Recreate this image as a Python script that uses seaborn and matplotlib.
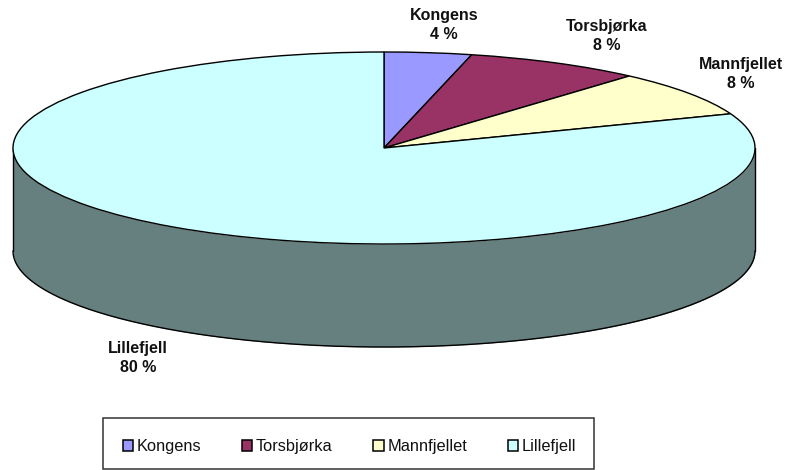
import numpy as np
import matplotlib
matplotlib.use("Agg")
import matplotlib.pyplot as plt
from matplotlib.patches import Patch
import seaborn as sns

categories = ["Kongens", "Torsbjørka", "Mannfjellet", "Lillefjell"]
values = [3.8, 7.7, 7.7, 80.8]  # slice sizes as measured on the drawn pie
labels = ["Kongens\n4 %", "Torsbjørka\n8 %", "Mannfjellet\n8 %", "Lillefjell\n80 %"]
colors = ["#9999FF", "#993366", "#FFFFCC", "#CCFFFF"]
side_color = "#667F7F"

W, H = 789, 470
cx, cy, rx, ry, depth = 384, 148, 371, 96, 103

sns.set_theme(style="white")
plt.rcParams["font.family"] = ["Liberation Sans", "DejaVu Sans"]

fig = plt.figure(figsize=(W / 100, H / 100), dpi=100, facecolor="white")
# axes whose unit circle maps to the pie's ellipse
ax = fig.add_axes([(cx - rx) / W, 1 - (cy + ry) / H, 2 * rx / W, 2 * ry / H])
wedges, _ = ax.pie(values, colors=colors, startangle=90, counterclock=False,
                   wedgeprops=dict(edgecolor="black", linewidth=1.0), radius=1)
for w in wedges:
    w.set_zorder(3)
ax.set_aspect("auto")
ax.set_xlim(-1, 1)
ax.set_ylim(-1, 1)
ax.axis("off")

# side wall
d = depth / ry
t = np.linspace(np.pi, 2 * np.pi, 300)
x = np.cos(t)
y = np.sin(t)
ax.fill_between(x, y - d, y, color=side_color, zorder=1, lw=0, clip_on=False)
ax.plot(x, y - d, color="black", lw=1.0, zorder=2, clip_on=False)
ax.plot([-1, -1], [0, -d], color="black", lw=1.0, zorder=2, clip_on=False)
ax.plot([1, 1], [0, -d], color="black", lw=1.0, zorder=2, clip_on=False)

label_px = [(444, 25), (607, 36), (741, 74), (138, 358)]
for txt, (px, py) in zip(labels, label_px):
    fig.text(px / W, 1 - py / H, txt, ha="center", va="center", fontsize=11.5,
             fontweight="bold", color="#111111", linespacing=1.27)

handles = [Patch(facecolor=c, edgecolor="black", linewidth=1.1) for c in colors]
lw, lh = 491, 51
# legend centre sits slightly below the box centre
lax = fig.add_axes([104 / W, 1 - 472 / H, lw / W, lh / H])
lax.axis("off")
leg = lax.legend(handles, categories, loc="center", ncol=4, frameon=False,
                 fontsize=11.8, handlelength=0.62, handleheight=0.62,
                 handletextpad=0.22, columnspacing=2.5, borderpad=0, borderaxespad=0,
                 labelcolor="#111111")
fig.add_artist(plt.Rectangle((103 / W, 1 - 469 / H), lw / W, lh / H, fill=False,
                             edgecolor="#333333", linewidth=1.1,
                             transform=fig.transFigure))

fig.savefig("out.png", dpi=100, facecolor="white")
